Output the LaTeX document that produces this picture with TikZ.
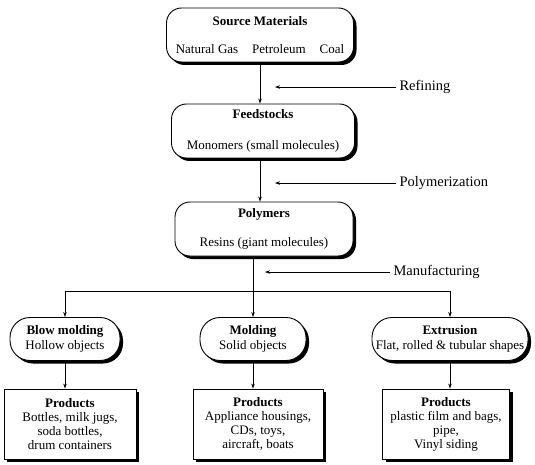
\documentclass[tikz,border=0pt]{standalone}
\usepackage{fontspec}
\setmainfont{Liberation Serif}
\usetikzlibrary{shadows,arrows.meta}

\tikzset{
	boxshadow/.style={drop shadow={shadow xshift=3pt, shadow yshift=-3pt, opacity=1, fill=black}},
	stage/.style={draw, line width=0.9pt, fill=white, rounded corners=15pt, boxshadow,
		align=center, minimum height=54pt, inner sep=2pt, font=\fontsize{13}{14.5}\selectfont},
	process/.style={draw, line width=0.9pt, fill=white, rounded corners=20pt, boxshadow,
		align=center, minimum height=43pt, inner sep=1pt, font=\fontsize{13}{14.5}\selectfont},
	product/.style={draw, line width=0.9pt, fill=white, boxshadow,
		align=center, minimum height=70pt, inner sep=2pt, font=\fontsize{13}{14}\selectfont},
	sidenote/.style={anchor=west, font=\fontsize{14.5}{16}\selectfont},
	arr/.style={-{Stealth[length=5pt,width=3.5pt]}, line width=0.6pt},
}

\begin{document}
\begin{tikzpicture}[x=1pt,y=-1pt]
	\useasboundingbox (0,0) rectangle (535,465);

	% materials chain
	\node[stage, minimum width=187pt] (source) at (260,35) {\textbf{Source Materials}\\[13pt]Natural Gas\hspace{14pt}Petroleum\hspace{14pt}Coal};
	\node[stage, minimum width=183pt] (feed) at (263,131) {\textbf{Feedstocks}\\[17pt]Monomers (small molecules)};
	\node[stage, minimum width=178pt] (polymers) at (264,229) {\textbf{Polymers}\\[14pt]Resins (giant molecules)};

	\draw[arr] (source.south -| 260,0) -- (feed.north -| 260,0);
	\draw[arr] (feed.south -| 260,0) -- (polymers.north -| 260,0);

	% process steps
	\node[sidenote] (refining) at (396,87) {Refining};
	\node[sidenote] (polymerization) at (396,183) {Polymerization};
	\node[sidenote] (manufacturing) at (390,272) {Manufacturing};
	\coordinate (refend) at (275,87);
	\coordinate (polyend) at (275,183);
	\coordinate (manuend) at (265,272);
	\draw[arr] (refining.west) -- (refend);
	\draw[arr] (polymerization.west) -- (polyend);
	\draw[arr] (manufacturing.west) -- (manuend);

	% manufacturing routes
	\node[process, minimum width=110pt] (blow) at (65,339) {\textbf{Blow molding}\\Hollow objects};
	\node[process, minimum width=106pt] (molding) at (253,339) {\textbf{Molding}\\Solid objects};
	\node[process, minimum width=156pt] (extrusion) at (450,339) {\textbf{Extrusion}\\Flat, rolled \& tubular shapes};

	\coordinate (branch) at (253,291);
	\draw[arr] (polymers.south -| molding.north) -- (molding.north);
	\draw (blow.north |- branch) -- (extrusion.north |- branch);
	\draw[arr] (blow.north |- branch) -- (blow.north);
	\draw[arr] (extrusion.north |- branch) -- (extrusion.north);

	% products
	\node[product, minimum width=132pt] (blowprod) at (70,424) {\textbf{Products}\\Bottles, milk jugs,\\soda bottles,\\drum containers};
	\node[product, minimum width=130pt] (moldprod) at (258,424) {\textbf{Products}\\Appliance housings,\\CDs, toys,\\aircraft, boats};
	\node[product, minimum width=127pt] (extrprod) at (446,424) {\textbf{Products}\\plastic film and bags,\\pipe,\\Vinyl siding};

	\draw[arr] (blow.south) -- (blow.south |- blowprod.north);
	\draw[arr] (molding.south) -- (molding.south |- moldprod.north);
	\draw[arr] (extrusion.south) -- (extrusion.south |- extrprod.north);
\end{tikzpicture}
\end{document}
